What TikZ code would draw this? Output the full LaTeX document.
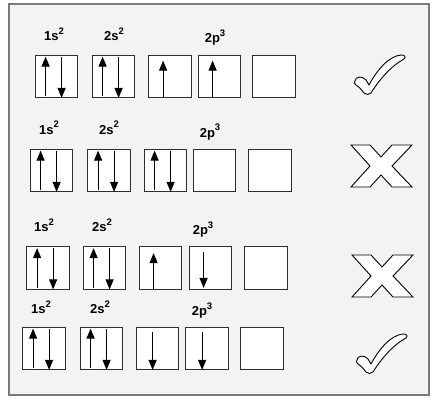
\documentclass[tikz,border=0pt]{standalone}
\usepackage{fontspec}
\setmainfont{Liberation Sans}
\usetikzlibrary{arrows.meta,calc}
\definecolor{panelbg}{HTML}{F3F3F3}
\definecolor{panelline}{HTML}{7A7A7A}
\definecolor{boxline}{HTML}{2E2E2E}
\newcommand{\orbl}[2]{{\fontsize{13}{15}\selectfont\bfseries #1\raisebox{6pt}{\fontsize{9.5}{11}\selectfont #2}}}
\begin{document}
\begin{tikzpicture}[x=1pt,y=-1pt,
  orb/.style={draw=boxline,line width=1.3pt,fill=white,minimum width=42.5pt,minimum height=42.5pt,inner sep=0pt},
  arr/.style={line width=1.1pt,-{Triangle[length=10pt,width=8pt]}},
  lbl/.style={anchor=base,inner sep=0pt},
  checkpic/.pic={
    \draw[line width=0.9pt,fill=white,line join=round]
      (10,31) .. controls (10,27) and (17,25) .. (21,30) -- (24,35)
      .. controls (32,20) and (44,6) .. (56,5)
      .. controls (60,5) and (61,7) .. (59,9)
      .. controls (46,16) and (34,30) .. (26,43)
      .. controls (24,45) and (21,45) .. (19,43)
      .. controls (16,39) and (13,36) .. (11,35)
      .. controls (9,34) and (9,32) .. (10,31) -- cycle;
  },
  xpic/.pic={
    \draw[line width=0.9pt,fill=white,line join=miter]
      (6,5) -- (25,5) -- (36,17) -- (47,5) -- (67,5) -- (47,26) -- (67,47)
      -- (47,47) -- (36,35) -- (25,47) -- (6,47) -- (25,26) -- cycle;
  }]
\useasboundingbox (0,0) rectangle (435,406);
\draw[fill=panelbg,draw=panelline,line width=1.4pt] (9,4) rectangle (429,395);

% ---------- Row 1 ----------
\node[lbl] (l1a) at (54,41) {\orbl{1s}{2}};
\node[lbl] (l1b) at (114,41) {\orbl{2s}{2}};
\node[lbl] (l1c) at (215,42.5) {\orbl{2p}{3}};
\node[orb] (r1a) at (56.5,76.5) {};
\node[orb] (r1b) at (113.5,76.5) {};
\node[orb] (r1c) at (170,76.5) {};
\node[orb] (r1d) at (219.5,76.5) {};
\node[orb] (r1e) at (274,76.5) {};
\foreach \b in {r1a,r1b}{
  \draw[arr] ($(\b.south west)+(11,-2)$) -- ($(\b.north west)+(11,2)$);
  \draw[arr] ($(\b.north west)+(27,2)$) -- ($(\b.south west)+(27,-0.5)$);
}
\foreach \b in {r1c,r1d}{
  \draw[arr] ($(\b.south west)+(15,-0.5)$) -- ($(\b.north west)+(15,6)$);
}
\pic at (345,50) {checkpic};

% ---------- Row 2 ----------
\node[lbl] (l2a) at (49,134) {\orbl{1s}{2}};
\node[lbl] (l2b) at (109,134) {\orbl{2s}{2}};
\node[lbl] (l2c) at (210,137) {\orbl{2p}{3}};
\node[orb] (r2a) at (51.5,170.5) {};
\node[orb] (r2b) at (109,170.5) {};
\node[orb] (r2c) at (165.5,170.5) {};
\node[orb] (r2d) at (214.5,170.5) {};
\node[orb] (r2e) at (270,170.5) {};
\foreach \b in {r2a,r2b,r2c}{
  \draw[arr] ($(\b.south west)+(11,-2)$) -- ($(\b.north west)+(11,2)$);
  \draw[arr] ($(\b.north west)+(27,2)$) -- ($(\b.south west)+(27,-0.5)$);
}
\pic at (345,140) {xpic};

% ---------- Row 3 ----------
\node[lbl] (l3a) at (44,231.5) {\orbl{1s}{2}};
\node[lbl] (l3b) at (102,231.5) {\orbl{2s}{2}};
\node[lbl] (l3c) at (203,234.5) {\orbl{2p}{3}};
\node[orb] (r3a) at (48,268) {};
\node[orb] (r3b) at (104.5,268) {};
\node[orb] (r3c) at (160.5,268) {};
\node[orb] (r3d) at (210.5,268) {};
\node[orb] (r3e) at (266,268) {};
\foreach \b in {r3a,r3b}{
  \draw[arr] ($(\b.south west)+(11,-2)$) -- ($(\b.north west)+(11,2)$);
  \draw[arr] ($(\b.north west)+(27,2)$) -- ($(\b.south west)+(27,-0.5)$);
}
\draw[arr] ($(r3c.south west)+(15,-0.5)$) -- ($(r3c.north west)+(15,7)$);
\draw[arr] ($(r3d.north west)+(15,6)$) -- ($(r3d.south west)+(15,-2)$);
\pic at (346,250) {xpic};

% ---------- Row 4 ----------
\node[lbl] (l4a) at (41,313) {\orbl{1s}{2}};
\node[lbl] (l4b) at (100,313) {\orbl{2s}{2}};
\node[lbl] (l4c) at (202,315) {\orbl{2p}{3}};
\node[orb] (r4a) at (44,348.5) {};
\node[orb] (r4b) at (101.5,348.5) {};
\node[orb] (r4c) at (157.5,348.5) {};
\node[orb] (r4d) at (207,348.5) {};
\node[orb] (r4e) at (262,348.5) {};
\foreach \b in {r4a,r4b}{
  \draw[arr] ($(\b.south west)+(11,-2)$) -- ($(\b.north west)+(11,2)$);
  \draw[arr] ($(\b.north west)+(27,2)$) -- ($(\b.south west)+(27,-0.5)$);
}
\foreach \b in {r4c,r4d}{
  \draw[arr] ($(\b.north west)+(17,5)$) -- ($(\b.south west)+(17,-0.5)$);
}
\pic at (347,329) {checkpic};
\end{tikzpicture}
\end{document}
